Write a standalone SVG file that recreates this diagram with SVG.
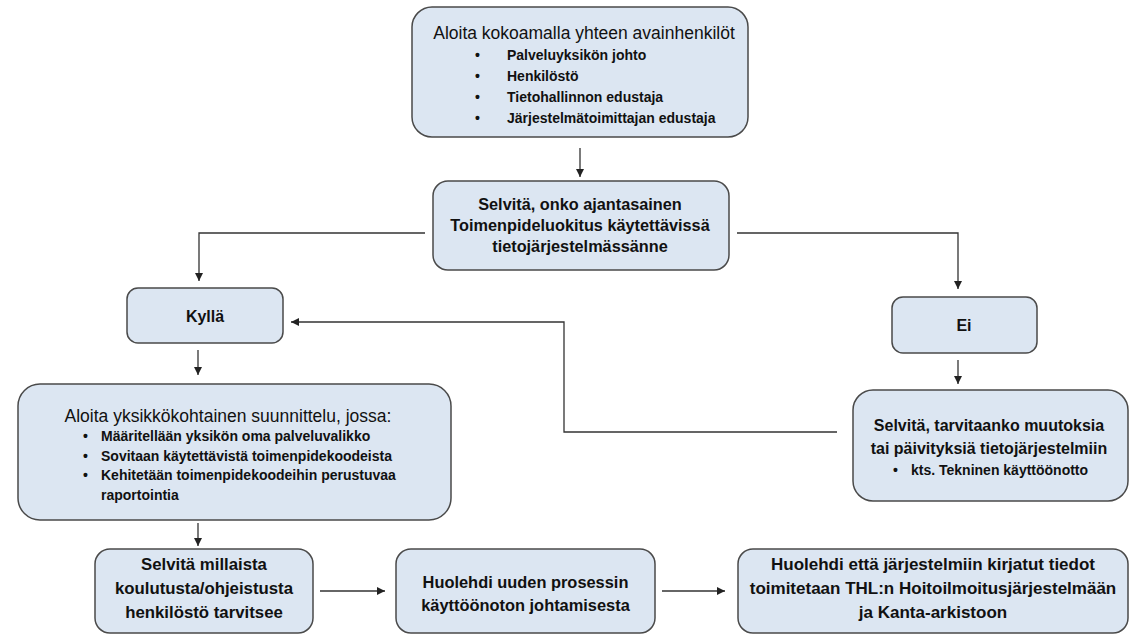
<svg xmlns="http://www.w3.org/2000/svg" width="1140" height="635" viewBox="0 0 1140 635">
<style>
.box{fill:#dce6f2;stroke:#4a4a4a;stroke-width:1.5}
.t{font-family:"Liberation Sans",Arial,sans-serif;fill:#111;font-weight:bold}
.r{font-weight:normal}
.c{text-anchor:middle}
.con{fill:none;stroke:#333;stroke-width:1.3}
</style>
<defs>
<marker id="ah" markerUnits="userSpaceOnUse" markerWidth="10" markerHeight="10" refX="8" refY="4" orient="auto">
<path d="M0,0 L8,4 L0,8 Z" fill="#222"/>
</marker>
</defs>
<rect width="1140" height="635" fill="#fff"/>
<g id="connectors" class="con" marker-end="url(#ah)">
<path d="M580,148 V177"/>
<path d="M425,233 H199 V281"/>
<path d="M737,233 H958 V289"/>
<path d="M958,360 V384"/>
<path d="M837,432 H564 V322 H291"/>
<path d="M198,350 V375"/>
<path d="M198,523 V546"/>
<path d="M320,591 H385"/>
<path d="M662,591 H725"/>
</g>
<g id="n1">
<rect class="box" x="412" y="7" width="336" height="130" rx="20"/>
<text class="t r c" x="584" y="39" font-size="17.5">Aloita kokoamalla yhteen avainhenkilöt</text>
<g class="t" font-size="14">
<text x="475" y="60">•</text><text x="507" y="60">Palveluyksikön johto</text>
<text x="475" y="81">•</text><text x="507" y="81">Henkilöstö</text>
<text x="475" y="102">•</text><text x="507" y="102">Tietohallinnon edustaja</text>
<text x="475" y="123">•</text><text x="507" y="123">Järjestelmätoimittajan edustaja</text>
</g>
</g>
<g id="n2">
<rect class="box" x="433" y="181" width="296" height="89" rx="15"/>
<g class="t c" font-size="16.3">
<text x="580" y="209.5">Selvitä, onko ajantasainen</text>
<text x="580" y="230.5">Toimenpideluokitus käytettävissä</text>
<text x="580" y="251.5">tietojärjestelmässänne</text>
</g>
</g>
<g id="n3">
<rect class="box" x="127" y="288" width="156" height="55" rx="11"/>
<text class="t c" x="205" y="321.5" font-size="16">Kyllä</text>
</g>
<g id="n4">
<rect class="box" x="892" y="297" width="145" height="56" rx="11"/>
<text class="t c" x="964" y="330.5" font-size="16">Ei</text>
</g>
<g id="n5">
<rect class="box" x="853" y="390" width="275" height="111" rx="20"/>
<g class="t c" font-size="16">
<text x="989" y="430.5">Selvitä, tarvitaanko muutoksia</text>
<text x="989" y="453.5">tai päivityksiä tietojärjestelmiin</text>
</g>
<text class="t" x="893" y="475" font-size="14">•</text>
<text class="t" x="911" y="475" font-size="14">kts. Tekninen käyttöönotto</text>
</g>
<g id="n6">
<rect class="box" x="18" y="384" width="433" height="136" rx="22"/>
<text class="t r c" x="228" y="422" font-size="17.5">Aloita yksikkökohtainen suunnittelu, jossa:</text>
<g class="t" font-size="14">
<text x="83" y="441">•</text><text x="101" y="441">Määritellään yksikön oma palveluvalikko</text>
<text x="83" y="460.5">•</text><text x="101" y="460.5">Sovitaan käytettävistä toimenpidekoodeista</text>
<text x="83" y="480">•</text><text x="101" y="480">Kehitetään toimenpidekoodeihin perustuvaa</text>
<text x="101" y="500">raportointia</text>
</g>
</g>
<g id="n7">
<rect class="box" x="95" y="549" width="218" height="84" rx="15"/>
<g class="t c" font-size="16.8">
<text x="204" y="570">Selvitä millaista</text>
<text x="204" y="594">koulutusta/ohjeistusta</text>
<text x="204" y="618">henkilöstö tarvitsee</text>
</g>
</g>
<g id="n8">
<rect class="box" x="396" y="549" width="259" height="84" rx="15"/>
<g class="t c" font-size="16.4">
<text x="525.5" y="587.5">Huolehdi uuden prosessin</text>
<text x="525.5" y="610.5">käyttöönoton johtamisesta</text>
</g>
</g>
<g id="n9">
<rect class="box" x="738" y="549" width="390" height="84" rx="15"/>
<g class="t c" font-size="17">
<text x="933" y="570">Huolehdi että järjestelmiin kirjatut tiedot</text>
<text x="933" y="594">toimitetaan THL:n Hoitoilmoitusjärjestelmään</text>
<text x="933" y="618">ja Kanta-arkistoon</text>
</g>
</g>
</svg>
